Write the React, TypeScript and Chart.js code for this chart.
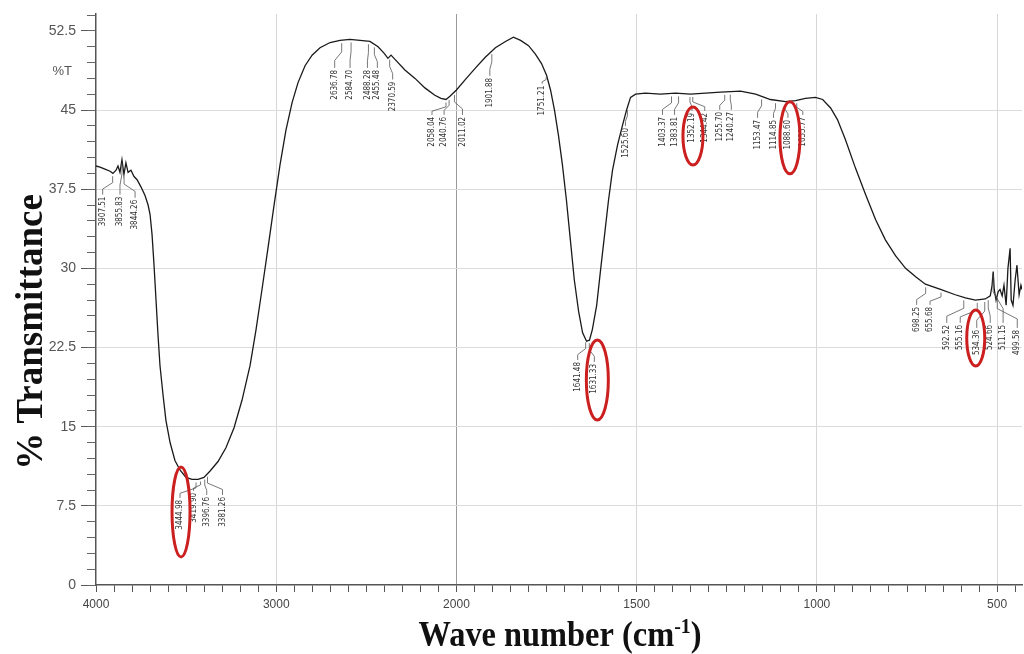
import React, { useEffect, useRef } from 'react';
import { Chart, registerables, LinearScale } from 'chart.js';

Chart.register(...registerables);

// ---------------- data ----------------
const WAVENUMBER = [
  4000, 3978, 3950, 3922, 3906, 3889, 3878, 3867, 3856, 3845, 3834, 3822, 3806, 3789, 3772, 3750,
  3728, 3711, 3700, 3689, 3678, 3667, 3656, 3645, 3628, 3612, 3589, 3562, 3534, 3501, 3467, 3434,
  3401, 3367, 3323, 3279, 3234, 3190, 3145, 3112, 3079, 3046, 3012, 2979, 2946, 2912, 2879, 2840,
  2801, 2757, 2701, 2646, 2591, 2535, 2480, 2435, 2402, 2380, 2363, 2341, 2286, 2230, 2175, 2120,
  2086, 2058, 2036, 2000, 1975, 1947, 1920, 1892, 1864, 1842, 1822, 1800, 1781, 1764, 1750, 1739,
  1728, 1717, 1706, 1695, 1684, 1673, 1661, 1650, 1639, 1631, 1623, 1611, 1600, 1589, 1578, 1567,
  1553, 1539, 1528, 1517, 1503, 1476, 1434, 1392, 1351, 1309, 1267, 1212, 1170, 1129, 1087, 1059,
  1032, 1004, 984, 962, 943, 921, 893, 865, 837, 810, 782, 754, 726, 699, 657, 616,
  588, 560, 533, 519, 514, 511, 508, 503, 497, 492, 486, 481, 475, 470, 464, 461,
  456, 450, 445, 439, 434, 431,
];
const TRANSMITTANCE = [
  39.7, 39.6, 39.4, 39.2, 39.0, 39.3, 39.7, 39.1, 40.3, 38.9, 40.0, 39.1, 39.3, 38.7, 38.4, 37.7,
  36.9, 36.0, 35.1, 33.2, 30.3, 27.0, 23.7, 20.8, 18.0, 15.6, 13.5, 11.8, 10.9, 10.2, 10.0, 10.0,
  10.2, 10.8, 11.7, 13.0, 14.9, 17.5, 20.8, 24.2, 28.0, 31.9, 36.0, 39.8, 43.1, 45.7, 47.6, 49.2,
  50.2, 50.9, 51.4, 51.6, 51.7, 51.6, 51.5, 51.0, 50.4, 49.9, 50.2, 49.8, 48.8, 48.0, 47.1, 46.4,
  46.1, 46.0, 46.3, 46.9, 47.9, 49.0, 50.0, 50.9, 51.5, 51.9, 51.6, 51.1, 50.3, 49.4, 48.3, 46.9,
  45.0, 42.6, 39.8, 36.5, 32.7, 28.9, 25.9, 23.9, 23.1, 23.2, 24.2, 26.5, 29.9, 33.2, 36.5, 39.3,
  41.7, 43.6, 45.0, 46.2, 46.5, 46.6, 46.5, 46.6, 46.5, 46.6, 46.7, 46.8, 46.5, 46.0, 45.8, 45.9,
  46.1, 46.2, 46.0, 45.2, 44.1, 42.2, 39.5, 37.0, 34.6, 32.7, 31.2, 30.0, 29.2, 28.5, 28.0, 27.5,
  27.2, 27.0, 27.1, 27.4, 28.4, 29.7, 28.0, 27.0, 27.8, 28.0, 27.4, 28.4, 26.5, 30.0, 31.9, 27.0,
  26.5, 28.9, 30.3, 27.5, 28.4, 28.0,
];

const X_MAJOR_TICKS = [4000, 3000, 2000, 1500, 1000, 500];
const X_MINOR_STEP_HIGH = 100; // above 2000 cm-1
const X_MINOR_STEP_LOW = 50; // below 2000 cm-1
const Y_MAJOR_STEP = 7.5;
const Y_MINOR_STEP = 1.5;
const Y_UNIT_LABEL = '%T';

const PEAK_WAVENUMBERS = [
  3907.51, 3855.83, 3844.26, 3444.98, 3419.9, 3396.76, 3381.26,
  2636.78, 2584.7, 2488.28, 2455.48, 2370.59, 2058.04, 2040.76, 2011.02, 1901.88, 1751.21,
  1641.48, 1631.33, 1525.6, 1403.37, 1383.81, 1352.19, 1344.42, 1255.7, 1240.27,
  1153.47, 1114.85, 1088.6, 1055.77, 698.25, 655.68, 592.52, 555.16, 534.36, 524.66, 511.15, 499.58,
];
const HIGHLIGHTED_PEAKS = [3444.98, 1631.33, 1352.19, 1088.6, 534.36];

// ---------------- layout / style (not data) ----------------
const PEAK_LABEL_DX = [
  -10, -2, 11, -16, -7, 2, 15,
  -7, -1, -1, 3, 3, -14, -5, 8, -2, -4,
  -8, 5, -2, -9, -4, 2, 12, -5, 1,
  -4, -2, 3, 6, -9, -11, -17, -17, -8, 2, 10, 20,
];
const PEAK_LABEL_TOP = [
  36.8, 36.8, 36.5, 8.06, 8.72, 8.34, 8.34,
  48.8, 48.8, 48.8, 48.8, 47.7, 44.35, 44.35, 44.35, 48.05, 47.3,
  21.13, 20.94, 43.3, 44.35, 44.35, 44.73, 44.73, 44.83, 44.83,
  44.07, 44.07, 44.07, 44.35, 26.35, 26.35, 24.64, 24.64, 24.17, 24.64, 24.64, 24.17,
];
const ELLIPSE_STYLE = [
  { dx: 1, dy: 12, rx: 9, ry: 45 },
  { dx: 3, dy: 16, rx: 11, ry: 40 },
  { dx: 1, dy: 23, rx: 10, ry: 29 },
  { dx: 2, dy: 18, rx: 10, ry: 36 },
  { dx: -1, dy: 8, rx: 9, ry: 28 },
];

// ---------------- split (FTIR style) wavenumber scale ----------------
const WN_MAX = 4000;
const WN_BREAK = 2000;
const wnToPos = (w: number) =>
  w >= WN_BREAK ? (WN_MAX - w) / 2 : (WN_MAX - WN_BREAK) / 2 + (WN_BREAK - w);
const posToWn = (p: number) => {
  const b = (WN_MAX - WN_BREAK) / 2;
  return p <= b ? WN_MAX - 2 * p : WN_BREAK - (p - b);
};

const X_TICK_VALUES: number[] = [];
for (let w = WN_MAX; w > WN_BREAK; w -= X_MINOR_STEP_HIGH) X_TICK_VALUES.push(w);
for (let w = WN_BREAK; w >= 450; w -= X_MINOR_STEP_LOW) X_TICK_VALUES.push(w);

class FtirScale extends (LinearScale as any) {
  static id = 'ftir';
  static defaults = (LinearScale as any).defaults;
  buildTicks() {
    const vals = (this as any).options.tickValues || X_TICK_VALUES;
    return vals.map((v: number) => ({ value: v }));
  }
  getPixelForValue(value: number) {
    if (value === null || value === undefined || isNaN(value)) return NaN;
    const p0 = wnToPos((this as any).max);
    const p1 = wnToPos((this as any).min);
    return (this as any).getPixelForDecimal((wnToPos(value) - p0) / (p1 - p0));
  }
  getValueForPixel(pixel: number) {
    const p0 = wnToPos((this as any).max);
    const p1 = wnToPos((this as any).min);
    return posToWn(p0 + (this as any).getDecimalForPixel(pixel) * (p1 - p0));
  }
}
Chart.register(FtirScale as any);

function curveAt(w: number) {
  for (let i = 0; i < WAVENUMBER.length - 1; i++) {
    const a = WAVENUMBER[i];
    const b = WAVENUMBER[i + 1];
    if (w <= a && w >= b) {
      const t = (a - w) / (a - b);
      return TRANSMITTANCE[i] + t * (TRANSMITTANCE[i + 1] - TRANSMITTANCE[i]);
    }
  }
  return TRANSMITTANCE[TRANSMITTANCE.length - 1];
}

const SANS = '"Liberation Sans", Arial, sans-serif';
const NARROW = '"Liberation Sans Narrow", "DejaVu Sans Condensed", "Liberation Sans", sans-serif';
const SERIF = '"Liberation Serif", "Times New Roman", serif';

const annotationPlugin = {
  id: 'ftirAnnotations',
  afterDatasetsDraw(chart: any) {
    const { ctx } = chart;
    const xs = chart.scales.x;
    const ys = chart.scales.y;
    ctx.save();
    ctx.font = `8px ${NARROW}`;
    ctx.strokeStyle = '#555';
    ctx.lineWidth = 0.8;
    ctx.fillStyle = '#333';
    const labelPos: Record<string, { lx: number; ty: number; len: number }> = {};
    PEAK_WAVENUMBERS.forEach((w, i) => {
      const px = xs.getPixelForValue(w);
      const cy = ys.getPixelForValue(curveAt(w));
      const lx = px + PEAK_LABEL_DX[i];
      const ty = ys.getPixelForValue(PEAK_LABEL_TOP[i]);
      const sy = cy + 3;
      const ey = ty - 2;
      ctx.beginPath();
      ctx.moveTo(px, sy);
      ctx.lineTo(px, sy + (ey - sy) * 0.35);
      ctx.lineTo(lx, sy + (ey - sy) * 0.7);
      ctx.lineTo(lx, ey);
      ctx.stroke();
      const text = w.toFixed(2);
      ctx.save();
      ctx.translate(lx, ty);
      ctx.rotate(-Math.PI / 2);
      ctx.textAlign = 'right';
      ctx.textBaseline = 'middle';
      ctx.fillText(text, 0, 0);
      ctx.restore();
      labelPos[text] = { lx, ty, len: ctx.measureText(text).width };
    });
    ctx.strokeStyle = '#cc1f1f';
    ctx.lineWidth = 3;
    HIGHLIGHTED_PEAKS.forEach((w, i) => {
      const p = labelPos[w.toFixed(2)];
      if (!p) return;
      const s = ELLIPSE_STYLE[i];
      ctx.beginPath();
      ctx.ellipse(p.lx + s.dx, p.ty + s.dy, s.rx, s.ry, 0, 0, Math.PI * 2);
      ctx.stroke();
    });
    ctx.restore();
  },
  afterDraw(chart: any) {
    const { ctx } = chart;
    const ys = chart.scales.y;
    ctx.save();
    // %T unit label on the y axis
    ctx.font = `13px ${SANS}`;
    ctx.fillStyle = '#555';
    ctx.textAlign = 'right';
    ctx.textBaseline = 'middle';
    ctx.fillText(Y_UNIT_LABEL, 72, ys.getPixelForValue(48.7));

    // y title
    ctx.fillStyle = '#111';
    ctx.font = `bold 37px ${SERIF}`;
    ctx.save();
    ctx.translate(42, 332);
    ctx.rotate(-Math.PI / 2);
    ctx.textAlign = 'center';
    ctx.textBaseline = 'alphabetic';
    ctx.fillText('% Transmittance', 0, 0);
    ctx.restore();

    // x title with superscript
    const main = 'Wave number (cm';
    const sup = '-1';
    const close = ')';
    const squeeze = 0.9;
    ctx.save();
    ctx.font = `bold 36px ${SERIF}`;
    const wMain = ctx.measureText(main).width;
    const wClose = ctx.measureText(close).width;
    ctx.font = `bold 22px ${SERIF}`;
    const wSup = ctx.measureText(sup).width;
    const total = (wMain + wSup + wClose) * squeeze;
    const cx = 560;
    ctx.translate(cx - total / 2, 646);
    ctx.scale(squeeze, 1);
    ctx.textAlign = 'left';
    ctx.textBaseline = 'alphabetic';
    ctx.font = `bold 36px ${SERIF}`;
    ctx.fillText(main, 0, 0);
    ctx.font = `bold 22px ${SERIF}`;
    ctx.fillText(sup, wMain, -13);
    ctx.font = `bold 36px ${SERIF}`;
    ctx.fillText(close, wMain + wSup, 0);
    ctx.restore();
    ctx.restore();
  },
};

export default function App() {
  const ref = useRef<HTMLCanvasElement>(null);
  useEffect(() => {
    if (!ref.current) return;
    const points = WAVENUMBER.map((w, i) => ({ x: w, y: TRANSMITTANCE[i] }));
    const chart = new Chart(ref.current, {
      type: 'line',
      data: {
        datasets: [
          {
            data: points,
            borderColor: '#1a1a1a',
            borderWidth: 1.3,
            pointRadius: 0,
            tension: 0,
            fill: false,
            xAxisID: 'x',
            yAxisID: 'y',
          },
        ],
      },
      options: {
        responsive: false,
        devicePixelRatio: 1,
        animation: false,
        events: [],
        layout: { padding: { top: 14, right: 2, left: 0, bottom: 0 } },
        plugins: { legend: { display: false }, tooltip: { enabled: false }, title: { display: false } },
        scales: {
          x: {
            type: 'ftir' as any,
            position: 'bottom',
            min: 431,
            max: 4000,
            tickValues: X_TICK_VALUES,
            ticks: {
              autoSkip: false,
              maxRotation: 0,
              minRotation: 0,
              padding: 5,
              color: '#444',
              font: { family: SANS, size: 12 },
              callback: (v: any) => (X_MAJOR_TICKS.includes(Number(v)) ? String(v) : ''),
            },
            grid: {
              color: (c: any) => {
                const v = c.tick ? c.tick.value : null;
                if (v === 2000) return '#9a9a9a';
                if (v !== 4000 && X_MAJOR_TICKS.includes(v)) return '#d6d6d6';
                return 'rgba(0,0,0,0)';
              },
              tickColor: '#555',
              tickLength: 7,
            },
            border: { color: '#555', width: 1.5 },
            afterFit: (s: any) => {
              s.height = 69;
            },
          } as any,
          y: {
            type: 'linear',
            position: 'left',
            weight: 1,
            min: 0,
            max: 54.1,
            ticks: {
              stepSize: Y_MAJOR_STEP,
              includeBounds: false,
              padding: 5,
              color: '#555',
              font: { family: SANS, size: 14 },
              callback: (v: any) => String(v),
            },
            grid: {
              color: (c: any) => {
                const v = c.tick ? c.tick.value : 0;
                return v > 0 && v < 50 ? '#dcdcdc' : 'rgba(0,0,0,0)';
              },
              tickColor: '#555',
              tickLength: 15,
            },
            border: { color: '#555', width: 1.5 },
            afterFit: (s: any) => {
              s.width = 96;
            },
          } as any,
          yMinor: {
            type: 'linear',
            position: 'left',
            weight: 0,
            min: 0,
            max: 54.1,
            ticks: { stepSize: Y_MINOR_STEP, includeBounds: false, display: false },
            grid: { drawOnChartArea: false, tickColor: '#666', tickLength: 9 },
            border: { display: false },
            afterFit: (s: any) => {
              s.width = 0;
            },
          } as any,
        },
      },
      plugins: [annotationPlugin],
    } as any);
    return () => chart.destroy();
  }, []);
  return (
    <div style={{ position: 'fixed', left: 0, top: 0, width: 1024, height: 654, background: '#fff' }}>
      <canvas ref={ref} width={1024} height={654} style={{ display: 'block' }} />
    </div>
  );
}
